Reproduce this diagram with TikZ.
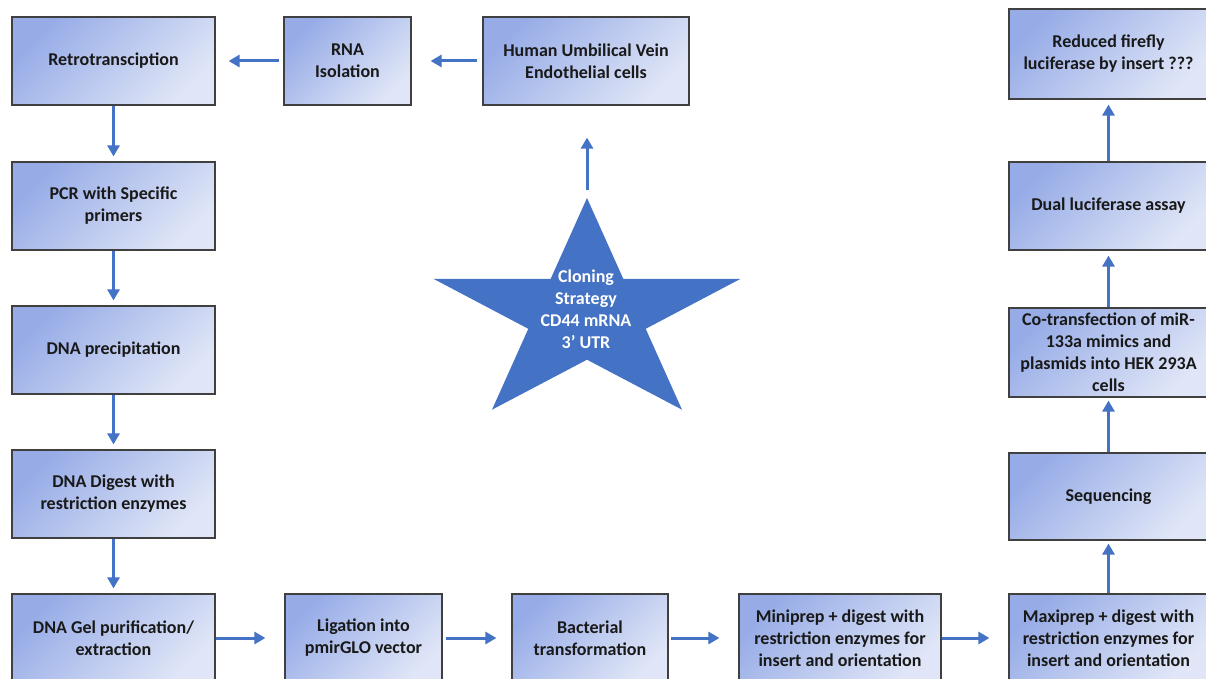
\documentclass[tikz,border=0pt]{standalone}
\usepackage{fontspec}
\setmainfont{Carlito}
\usepackage{tikz}
\usetikzlibrary{arrows.meta}

\definecolor{boxdark}{HTML}{97ACE7}
\definecolor{boxlight}{HTML}{E0E6F7}
\definecolor{boxline}{HTML}{404040}
\definecolor{flowblue}{HTML}{4472C4}

\tikzset{
  stepbox/.style={draw=boxline, line width=0.6pt, top color=boxdark, bottom color=boxlight,
    shading angle=45, minimum width=#1, minimum height=44pt, inner sep=0pt, align=center,
    text=black!90, font=\fontsize{9}{11}\selectfont\bfseries},
  flow/.style={draw=flowblue, line width=1.5pt, -{Triangle[length=5.5pt,width=6pt]}},
}

\begin{document}
\begin{tikzpicture}[x=0.5pt,y=-0.5pt]
  \useasboundingbox (0,0) rectangle (1206,679);

  \node[stepbox=101.5pt] (retro) at (113.5,61) {Retrotransciption};
  \node[stepbox=101.5pt] (pcr) at (113.5,206) {PCR with Specific\\primers};
  \node[stepbox=101.5pt] (precip) at (113.5,350) {DNA precipitation};
  \node[stepbox=101.5pt] (digest) at (113.5,494) {DNA Digest with\\restriction enzymes};
  \node[stepbox=101.5pt] (gel) at (113.5,638) {DNA Gel purification/\\extraction};
  \node[stepbox=63.5pt] (rna) at (347.5,61) {RNA\\Isolation};
  \node[stepbox=103pt] (huvec) at (586,61) {Human Umbilical Vein\\Endothelial cells};
  \node[stepbox=78.5pt] (ligation) at (363.5,638) {Ligation into\\pmirGLO vector};
  \node[stepbox=78pt] (bacteria) at (590,638) {Bacterial\\transformation};
  \node[stepbox=101pt] (miniprep) at (840,638) {Miniprep + digest with\\restriction enzymes for\\insert and orientation};
  \node[stepbox=99.5pt] (maxiprep) at (1108.5,638) {Maxiprep + digest with\\restriction enzymes for\\insert and orientation};
  \node[stepbox=99.5pt, minimum height=43.5pt] (sequencing) at (1108.5,496.5) {Sequencing};
  \node[stepbox=99.5pt, minimum height=44.5pt] (cotrans) at (1108.5,352.5) {Co-transfection of miR-\\133a mimics and\\plasmids into HEK 293A\\cells};
  \node[stepbox=99.5pt] (dual) at (1108.5,206) {Dual luciferase assay};
  \node[stepbox=99.5pt, minimum height=45pt] (reduced) at (1108.5,54) {Reduced firefly\\luciferase by insert ???};

  % star in the middle
  \fill[flowblue] (587,198) -- (623.3,278.8) -- (740.6,278.8) -- (645.7,328.8) -- (682,409.7)
    -- (587,359.7) -- (492,409.7) -- (528.3,328.8) -- (433.4,278.8) -- (550.7,278.8) -- cycle;
  \node[align=center, text=white, font=\fontsize{9}{11}\selectfont\bfseries] (strategy) at (586,309) {Cloning\\Strategy\\CD44 mRNA\\3’ UTR};
  \coordinate (startip) at (587,190);

  \draw[flow, shorten >=16pt] (startip) -- (startip |- huvec.south);
  \draw[flow, shorten <=2.5pt, shorten >=9.5pt] (huvec) -- (rna);
  \draw[flow, shorten <=2pt, shorten >=6.5pt] (rna) -- (retro);
  \draw[flow, shorten >=2.5pt] (retro) -- (pcr);
  \draw[flow, shorten >=2.5pt] (pcr) -- (precip);
  \draw[flow, shorten >=2.5pt] (precip) -- (digest);
  \draw[flow, shorten >=2.5pt] (digest) -- (gel);
  \draw[flow, shorten >=9.5pt] (gel) -- (ligation);
  \draw[flow, shorten <=1.5pt, shorten >=7.5pt] (ligation) -- (bacteria);
  \draw[flow, shorten <=1pt, shorten >=9.5pt] (bacteria) -- (miniprep);
  \draw[flow, shorten >=9.5pt] (miniprep) -- (maxiprep);
  \draw[flow, shorten >=1.5pt] (maxiprep) -- (sequencing);
  \draw[flow, shorten >=1.5pt] (sequencing) -- (cotrans);
  \draw[flow, shorten >=2.5pt] (cotrans) -- (dual);
  \draw[flow, shorten >=2.5pt] (dual) -- (reduced);
\end{tikzpicture}
\end{document}
